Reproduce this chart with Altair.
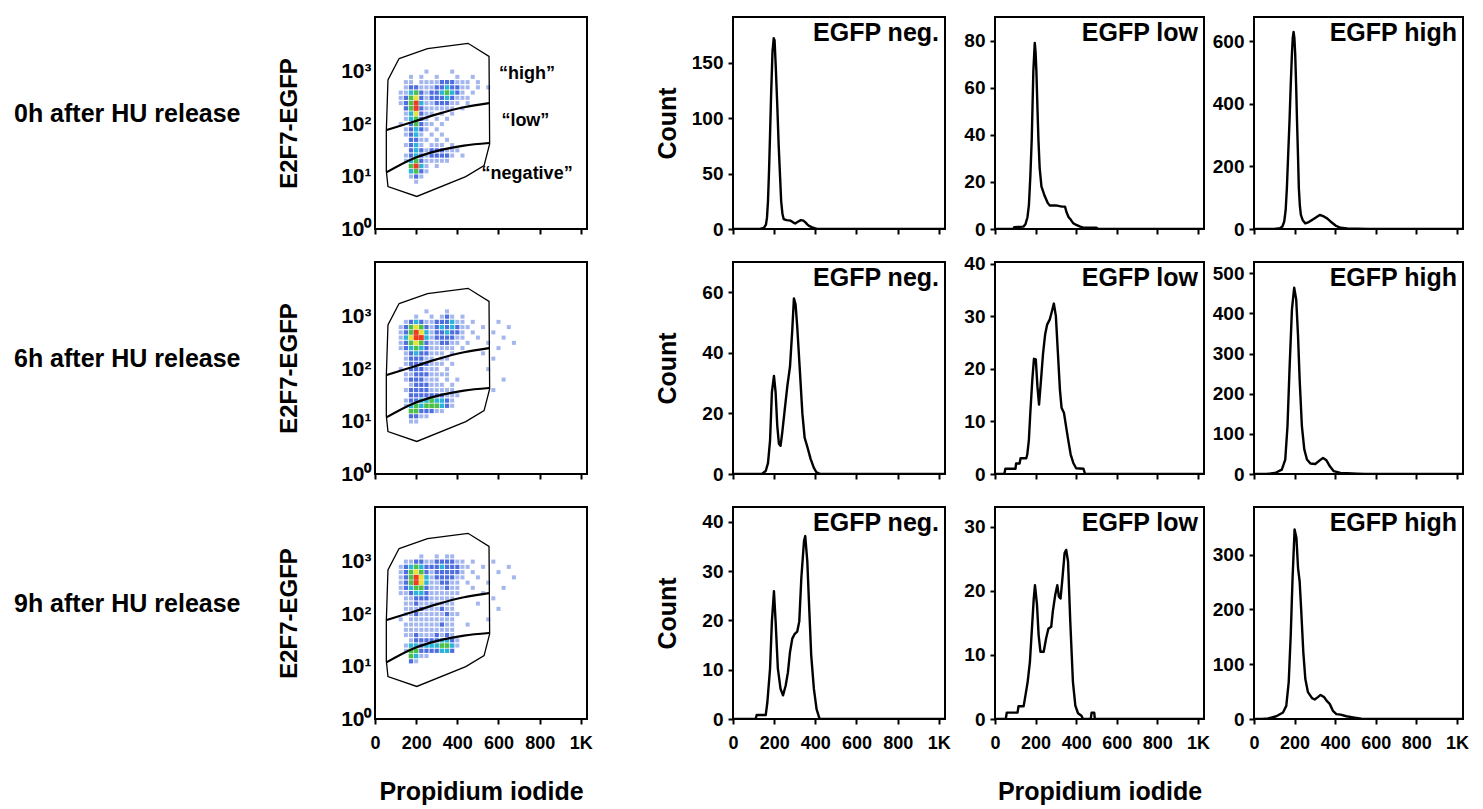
import altair as alt
import pandas as pd

FONT = "Liberation Sans"

# ---------------- text ----------------
ROW_LABELS = ["0h after HU release", "6h after HU release", "9h after HU release"]
HIST_LABELS = ["EGFP neg.", "EGFP low", "EGFP high"]
X_TITLE = "Propidium iodide"
SCATTER_Y_TITLE = "E2F7-EGFP"
HIST_Y_TITLE = "Count"

# ---------------- axes ----------------
X_TICKS = [0, 200, 400, 600, 800, 1000]
PI_DOMAIN = [0, 1030]
EGFP_DOMAIN = [1, 11000]
EGFP_TICKS = [1, 10, 100, 1000]

# ---------------- density plots (binned, levels) ----------------
DENS_PI = [50, 75, 100, 125, 150, 175, 200, 225, 250, 275, 300, 325, 350, 375, 400,
           425, 450, 475, 500, 525, 550, 575, 600, 625, 650, 675, 700, 725, 750]
DENS_LOG_EGFP = [3.5, 3.4, 3.3, 3.2, 3.1, 3.0, 2.9, 2.8, 2.7, 2.6, 2.5, 2.4, 2.3, 2.2, 2.1,
                 2.0, 1.9, 1.8, 1.7, 1.6, 1.5, 1.4, 1.3, 1.2, 1.1, 1.0, 0.9, 0.8, 0.7, 0.6]
DENS_0H = [
    "", "", "", "", "",
    "00000000100001",
    "000001010010001001",
    "0000110111122211101",
    "000012211122322110101",
    "000113421223432101",
    "00012452122232111",
    "00012463112221101",
    "0000246211111101",
    "00001352110101",
    "0000134210101",
    "000102421101",
    "00001232101",
    "000012310101",
    "0000022110101",
    "00001231011101",
    "000002321222111",
    "0000123212222101",
    "0000134211111",
    "00000463101",
    "000003421",
    "00000121",
    "0000001",
    "", "", "",
]
DENS_6H = [
    "", "", "", "",
    "0000000010001",
    "0000001001012101",
    "00001232112223110100001",
    "0001245421232321100100001",
    "0001246531223221010001",
    "000135663122221100100001",
    "00012454211221101000100001",
    "00012343211111010000001",
    "00001232211101000001",
    "0000122211011000000001",
    "00001222211101",
    "000102221110100000001",
    "0000112221111",
    "000012221110101000000001",
    "00000122211101",
    "0000122221111100000001",
    "000002222222111",
    "00001223343321",
    "00001343444321",
    "000004422211",
    "000002211",
    "0000011",
    "", "", "", "",
]
DENS_9H = [
    "", "", "", "",
    "00000001001011",
    "0000112211222211010001",
    "0001234322232221100100001",
    "00012454212222210100001",
    "00012465312222110010000001",
    "000124653112211010001",
    "000123442111211001000001",
    "00011233211111100001",
    "0000112221111100000001",
    "0000112111111100001",
    "00001112111211000000001",
    "000011211111211",
    "000101111111110000001",
    "00001111111211001",
    "00001111111111",
    "00001121112121",
    "000001222223321",
    "000013323334431",
    "00001442222332",
    "000004311",
    "0000021",
    "", "", "", "", "",
]
DENS_GRIDS = [DENS_0H, DENS_6H, DENS_9H]
DENS_LEVELS = [1, 2, 3, 4, 5, 6]
DENS_COLORS = ["#a3b6ee", "#4f6fe0", "#2bb4d8", "#4cc04a", "#e8e23a", "#ee3b22"]
DENS_SIZES = [16, 25, 30, 30, 30, 30]

# ---------------- gates ----------------
GATE_OUTER_PI = [117, 255, 452, 554, 557, 530, 441, 203, 63, 55, 55, 63, 117]
GATE_OUTER_EGFP = [1778, 2754, 3467, 1950, 41.7, 16.2, 10, 4.17, 6.46, 12.9, 74.1, 692, 1778]
GATE_LINE_PI = [55, 190, 303, 432, 554]
GATE_HIGH_LOW_EGFP = [76.9, 112, 155, 209, 251]
GATE_LOW_NEG_EGFP = [12.0, 22.4, 30.9, 38.9, 43.6]
GATE_TEXT = ["\u201chigh\u201d", "\u201clow\u201d", "\u201cnegative\u201d"]
GATE_TEXT_PI = [602, 614, 518]
GATE_TEXT_EGFP = [900, 116, 11.2]

# ---------------- histograms ----------------
H0_NEG_PI = [0, 130, 150, 160, 165, 170, 175, 180, 185, 192, 198, 202, 208, 215, 222, 228, 234, 240, 246, 260,
             280, 292, 302, 315, 330, 342, 352, 362, 372, 385, 400, 410, 1024]
H0_NEG_CNT = [0, 0, 1, 4, 10, 25, 52, 85, 120, 160, 172, 170, 145, 112, 75, 50, 25, 14, 9, 8,
              7.5, 6, 5, 6.5, 8, 7.5, 6, 4, 2.5, 1.5, 0.5, 0, 0]
H0_LOW_PI = [0, 90, 95, 140, 150, 160, 167, 174, 181, 189, 196, 200, 204, 209, 214, 220, 229, 245, 260, 270,
             300, 330, 345, 353, 363, 373, 385, 395, 420, 440, 500, 510, 1024]
H0_LOW_CNT = [0, 0, 0.8, 1, 2, 5, 10, 22, 38, 67, 79, 75, 67, 52, 38, 26, 18, 14, 11, 10,
              10, 9.5, 9.5, 7, 5, 4, 2.5, 2, 1, 0.5, 0.5, 0, 0]
H0_HIGH_PI = [0, 100, 129, 140, 149, 156, 162, 168, 175, 181, 187, 191, 195, 199, 203, 208, 212, 217, 221, 226,
              231, 240, 253, 270, 286, 305, 324, 344, 360, 377, 402, 426, 460, 509, 560, 1024]
H0_HIGH_CNT = [0, 0, 3, 8, 24, 60, 130, 230, 345, 460, 560, 610, 629, 610, 560, 450, 345, 230, 130, 75,
               45, 28, 18, 22, 29, 37, 45, 40, 34, 24, 11, 4, 2, 1, 0, 0]

H6_NEG_PI = [0, 140, 159, 170, 180, 189, 199, 207, 215, 223, 231, 239, 251, 264, 277, 288, 296, 304, 312, 325,
             337, 348, 361, 377, 393, 406, 425, 1024]
H6_NEG_CNT = [0, 0, 1, 3.6, 11, 27, 32.4, 27, 16, 10, 9.3, 13.5, 21, 29, 35.5, 47.6, 58, 56, 48.7, 34,
              20, 12, 9, 5, 2, 0.5, 0, 0]
H6_LOW_PI = [0, 46, 51, 101, 104, 121, 126, 154, 159, 167, 174, 184, 192, 201, 209, 217, 227, 237, 247, 257,
             270, 279, 290, 300, 310, 320, 328, 340, 350, 362, 373, 386, 400, 436, 444, 1024]
H6_LOW_CNT = [0, 0, 1, 1, 2, 2, 3, 3, 3.7, 6.5, 11.6, 18, 21.9, 21.8, 16.7, 13.2, 18, 23, 26.5, 28.4,
              29.4, 30.7, 32.4, 30, 23, 16, 12.6, 11.6, 9.1, 6.2, 3.7, 2.1, 1.1, 1, 0, 0]
H6_HIGH_PI = [0, 60, 104, 137, 154, 165, 175, 187, 198, 208, 217, 225, 236, 248, 261, 278, 302, 324, 340, 357,
              374, 393, 426, 460, 509, 550, 1024]
H6_HIGH_CNT = [0, 0, 2.5, 11, 36, 119, 260, 410, 464, 435, 344, 235, 119, 61, 36, 26, 25, 34, 40, 34,
               19, 7, 2.5, 1.7, 0.8, 0, 0]

H9_NEG_PI = [0, 110, 115, 159, 167, 180, 189, 199, 207, 218, 231, 243, 256, 267, 277, 288, 299, 312, 322, 332,
             345, 351, 361, 371, 380, 393, 406, 421, 1024]
H9_NEG_CNT = [0, 0, 0.8, 0.8, 3.4, 10.2, 19.8, 25.9, 19.8, 10.2, 6.1, 4.8, 6.8, 9.5, 13.6, 16.3, 17.2, 17.7, 19.8, 28.6,
              36.1, 37.1, 32, 21.8, 12.9, 6.1, 2, 0, 0]
H9_LOW_PI = [0, 53, 58, 111, 116, 141, 147, 161, 172, 182, 191, 197, 207, 215, 224, 240, 252, 263, 277, 285,
             297, 307, 315, 323, 331, 343, 351, 360, 371, 384, 396, 409, 426, 434, 472, 476, 489, 492, 1024]
H9_LOW_CNT = [0, 0, 1, 1, 2, 2, 3.1, 5.8, 8.9, 14.1, 18.8, 20.9, 17.8, 13.1, 10.5, 10.5, 12.6, 14.1, 14.4, 16.8,
              19.4, 20.9, 19.1, 18.8, 21.5, 25.9, 26.4, 24.6, 15.2, 5.8, 2.1, 0.9, 0.5, 0, 0, 1, 1, 0, 0]
H9_HIGH_PI = [0, 40, 69, 110, 143, 159, 171, 181, 190, 200, 209, 217, 225, 233, 243, 253, 266, 286, 299, 315,
              328, 345, 361, 373, 389, 406, 427, 455, 488, 529, 562, 1024]
H9_HIGH_CNT = [0, 0, 1, 5, 12, 24, 67, 153, 257, 346, 331, 276, 251, 196, 122, 73, 49, 38, 35.5, 40,
               44, 40, 32, 27.6, 15, 9, 8, 5, 3, 0.6, 0, 0]

HIST_PI = [[H0_NEG_PI, H0_LOW_PI, H0_HIGH_PI],
           [H6_NEG_PI, H6_LOW_PI, H6_HIGH_PI],
           [H9_NEG_PI, H9_LOW_PI, H9_HIGH_PI]]
HIST_CNT = [[H0_NEG_CNT, H0_LOW_CNT, H0_HIGH_CNT],
            [H6_NEG_CNT, H6_LOW_CNT, H6_HIGH_CNT],
            [H9_NEG_CNT, H9_LOW_CNT, H9_HIGH_CNT]]
HIST_YMAX = [[191, 90, 677], [70, 40.3, 528], [43, 33.1, 387]]
HIST_YTICKS = [[[0, 50, 100, 150], [0, 20, 40, 60, 80], [0, 200, 400, 600]],
               [[0, 20, 40, 60], [0, 10, 20, 30, 40], [0, 100, 200, 300, 400, 500]],
               [[0, 10, 20, 30, 40], [0, 10, 20, 30], [0, 100, 200, 300]]]

# ---------------- layout ----------------
W_LABEL = 311
W_SCATTER = 212
W_SPACER = 46
W_HIST = [212, 209, 209]
H = 212
ROW_LABEL_Y = 97
NO_FRAME = alt.ViewBackground(stroke="transparent")


def x_enc(bottom, title):
    return alt.X(
        "pi:Q",
        scale=alt.Scale(domain=PI_DOMAIN, nice=False, zero=False),
        axis=alt.Axis(
            values=X_TICKS, labels=bottom,
            labelExpr="datum.value == 1000 ? '1K' : datum.label",
            labelFontSize=18, labelFontWeight="bold", labelColor="black",
            labelPadding=10, labelFlush=False, labelOverlap=False,
            tickSize=5, tickWidth=2, tickColor="black",
            domain=False, grid=False,
            title=title, titleFontSize=25, titleFontWeight="bold", titleColor="black",
            titleY=80, titleBaseline="alphabetic",
        ),
    )


def scatter_panel(row):
    bottom = row == 2
    X = x_enc(bottom, X_TITLE if bottom else None)
    Y = alt.Y(
        "egfp:Q",
        scale=alt.Scale(type="log", domain=EGFP_DOMAIN, nice=False),
        axis=alt.Axis(
            values=EGFP_TICKS,
            labelExpr="datum.value == 1 ? '10\u2070' : datum.value == 10 ? '10\u00b9' : datum.value == 100 ? '10\u00b2' : '10\u00b3'",
            labelFontSize=21, labelFontWeight="bold", labelColor="black",
            labelPadding=4, labelFlush=False, labelOverlap=False,
            ticks=False, domain=False, grid=False,
            title=SCATTER_Y_TITLE, titleFontSize=24, titleFontWeight="bold", titleColor="black",
            titleX=-79, titleBaseline="alphabetic",
        ),
    )
    recs = []
    for r, line in enumerate(DENS_GRIDS[row]):
        for k, ch in enumerate(line):
            lvl = int(ch)
            if lvl > 0:
                recs.append({"pi": DENS_PI[k], "egfp": 10 ** DENS_LOG_EGFP[r], "lvl": lvl})
    dens_df = pd.DataFrame(recs).sort_values("lvl", kind="stable")
    dens = alt.Chart(dens_df).mark_square(opacity=1, strokeWidth=0).encode(
        x=X, y=Y,
        color=alt.Color("lvl:O", scale=alt.Scale(domain=DENS_LEVELS, range=DENS_COLORS), legend=None),
        size=alt.Size("lvl:O", scale=alt.Scale(domain=DENS_LEVELS, range=DENS_SIZES), legend=None),
    )
    outer_df = pd.DataFrame({"pi": GATE_OUTER_PI, "egfp": GATE_OUTER_EGFP,
                             "i": list(range(len(GATE_OUTER_PI)))})
    outer = alt.Chart(outer_df).mark_line(color="black", strokeWidth=1.3).encode(
        x=X, y=Y, order="i:Q")
    lines_df = pd.DataFrame({
        "pi": GATE_LINE_PI + GATE_LINE_PI,
        "egfp": GATE_HIGH_LOW_EGFP + GATE_LOW_NEG_EGFP,
        "g": ["hl"] * len(GATE_LINE_PI) + ["ln"] * len(GATE_LINE_PI),
    })
    bounds = alt.Chart(lines_df).mark_line(color="black", strokeWidth=2.2, interpolate="monotone").encode(
        x=X, y=Y, detail="g:N")
    layers = [dens, outer, bounds]
    if row == 0:
        txt_df = pd.DataFrame({"pi": GATE_TEXT_PI, "egfp": GATE_TEXT_EGFP, "t": GATE_TEXT})
        layers.append(alt.Chart(txt_df).mark_text(
            align="left", baseline="middle", fontSize=18, fontWeight="bold", color="black"
        ).encode(x=X, y=Y, text="t:N"))
    return alt.layer(*layers).properties(width=W_SCATTER, height=H)


def hist_panel(row, col):
    bottom = row == 2
    X = x_enc(bottom, X_TITLE if (bottom and col == 1) else None)
    Y = alt.Y(
        "count:Q",
        scale=alt.Scale(domain=[0, HIST_YMAX[row][col]], nice=False, zero=True),
        axis=alt.Axis(
            values=HIST_YTICKS[row][col],
            labelFontSize=19, labelFontWeight="bold", labelColor="black",
            labelPadding=5, labelFlush=False, labelOverlap=False,
            tickSize=5, tickWidth=2, tickColor="black",
            domain=False, grid=False,
            title=HIST_Y_TITLE if col == 0 else None,
            titleFontSize=25, titleFontWeight="bold", titleColor="black",
            titleX=-58, titleBaseline="alphabetic",
        ),
    )
    df = pd.DataFrame({"pi": HIST_PI[row][col], "count": HIST_CNT[row][col]})
    line = alt.Chart(df).mark_line(color="black", strokeWidth=2.4, clip=True,
                                   strokeJoin="round", strokeCap="round").encode(x=X, y=Y)
    label = alt.Chart(pd.DataFrame({"t": [HIST_LABELS[col]]})).mark_text(
        align="right", baseline="alphabetic", fontSize=25, fontWeight="bold", color="black"
    ).encode(text="t:N", x=alt.value(W_HIST[col] - 6), y=alt.value(24))
    return alt.layer(line, label).properties(width=W_HIST[col], height=H)


def row_label(row):
    return alt.Chart(pd.DataFrame({"t": [ROW_LABELS[row]]})).mark_text(
        align="left", baseline="middle", fontSize=25, fontWeight="bold", color="black"
    ).encode(text="t:N", x=alt.value(0), y=alt.value(ROW_LABEL_Y)).properties(
        width=W_LABEL, height=H, view=NO_FRAME)


def spacer():
    return alt.Chart(pd.DataFrame({"a": [0]})).mark_point(opacity=0).encode(
        x=alt.value(0), y=alt.value(0)).properties(width=W_SPACER, height=H, view=NO_FRAME)


cells = []
for r in range(3):
    cells += [row_label(r), scatter_panel(r), spacer(),
              hist_panel(r, 0), hist_panel(r, 1), hist_panel(r, 2)]

chart = alt.concat(
    *cells, columns=6, spacing={"row": 33, "column": 50}, bounds="flush", align="each"
).properties(
    padding={"left": 5, "top": 5, "right": 5, "bottom": 0}
).configure(font=FONT).configure_view(stroke="black", strokeWidth=2)

chart.save("out.html", embed_options={"renderer": "svg", "actions": False})
